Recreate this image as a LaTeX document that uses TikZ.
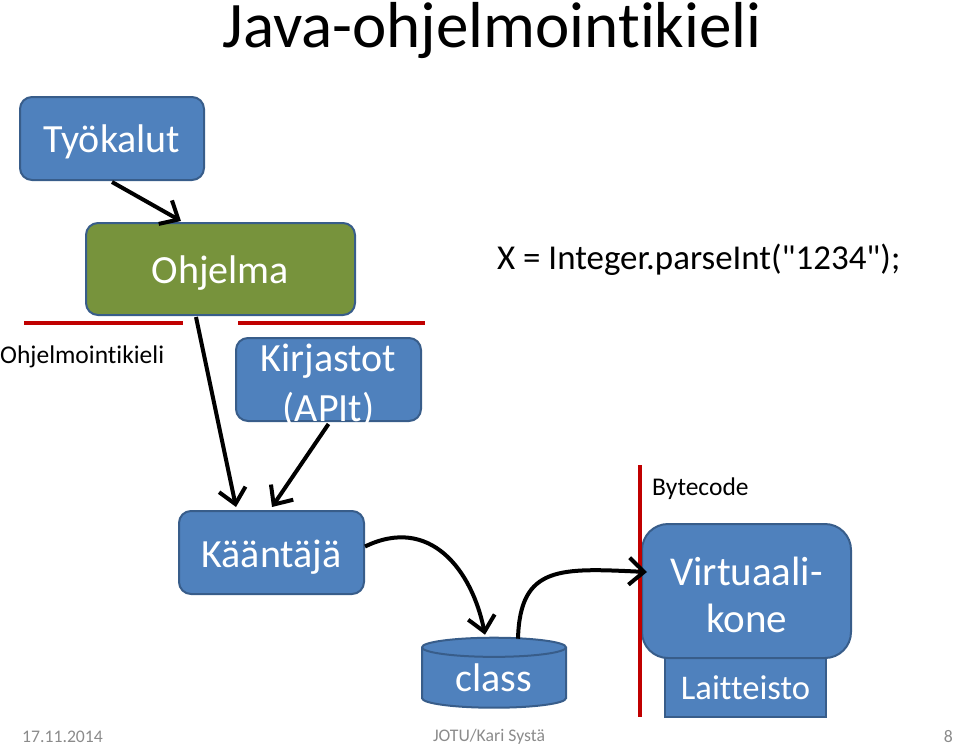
\documentclass[tikz,border=0pt]{standalone}
\usepackage{fontspec}
\setmainfont{Carlito}[Ligatures={TeXOff,CommonOff}]
\usepackage{tikz}
\usetikzlibrary{shapes,arrows.meta,positioning,calc}

\definecolor{boxblue}{HTML}{4F81BD}
\definecolor{boxedge}{HTML}{385D8A}
\definecolor{boxgreen}{HTML}{77933C}
\definecolor{linered}{HTML}{C00000}
\definecolor{footgray}{HTML}{8B8B8B}

\tikzset{
  block/.style={rectangle,rounded corners=12pt,draw=boxedge,line width=2pt,
    fill=boxblue,text=white,font=\fontsize{40}{48}\selectfont,align=center},
  flow/.style={line width=4pt,-{Straight Barb[length=15pt,width=27pt,line width=4pt]}},
  redline/.style={draw=linered,line width=4.5pt},
  small/.style={font=\fontsize{25.5}{30}\selectfont},
  foot/.style={text=footgray,font=\fontsize{17.7}{20}\selectfont}
}

\begin{document}
\begin{tikzpicture}[x=1pt,y=-1pt]
      \useasboundingbox (0,0) rectangle (960,747);
      % boxes
      \node[block,minimum width=184pt,minimum height=83pt]
      (tyokalut) at (112,138.5) {};
      \node[text=white,font=\fontsize{40}{48}\selectfont,anchor=base]
      (tyotext) at (112,152) {Työkalut};
      \node[block,fill=boxgreen,minimum width=269pt,minimum height=92pt]
      (ohjelma) at (220.5,269) {};
      \node[text=white,font=\fontsize{40}{48}\selectfont,anchor=base]
      (ohjtext) at (220.5,283) {Ohjelma};
      \node[block,minimum width=185pt,minimum height=83pt,inner sep=0pt]
      (kirjastot) at (328.5,379.5) {};
      \node[text=white,font=\fontsize{40}{50}\selectfont,align=center,inner sep=0pt]
      (kirjtext) at (328.5,386) {Kirjastot\\(APIt)};
      \node[block,minimum width=185pt,minimum height=83pt]
      (kaantaja) at (271.5,552.5) {};
      \node[text=white,font=\fontsize{40}{48}\selectfont,anchor=base]
      (kaantext) at (271.5,567) {Kääntäjä};
      \node[cylinder,shape border rotate=90,draw=boxedge,line width=2pt,
        fill=boxblue,text=white,font=\fontsize{40}{44}\selectfont,
        minimum width=144pt,minimum height=70pt,aspect=0.25,inner sep=0pt]
      (class) at (494,678) {class};
      \node[block,rounded corners=0pt,minimum width=161pt,minimum height=70pt,inner sep=0pt]
      (laitteisto) at (745.5,682) {};
      \node (laittext) at (745.5,688) {\fontsize{34.6}{40}\selectfont\color{white}Laitteisto};
      \node[block,rounded corners=26pt,minimum width=209pt,minimum height=134pt,
        inner sep=0pt,font=\fontsize{41}{47}\selectfont]
      (vkone) at (746.5,591) {};
      \node[text=white,font=\fontsize{41}{47}\selectfont,align=center,inner sep=0pt]
      (vktext) at (746.5,595) {Virtuaali-\\kone};
      % texts
      \node[anchor=base] (title) at (492,47) {\fontsize{65}{70}\selectfont Java-ohjelmointikieli};
      \node[anchor=west,inner sep=0pt,font=\fontsize{34.9}{40}\selectfont]
      (koodi) at (497,260) {X = Integer.parseInt("1234");};
      \node[small,anchor=west,inner sep=0pt] (kieli) at (0,357) {Ohjelmointikieli};
      \node[small,anchor=west,inner sep=0pt] (bytecode) at (652,489) {Bytecode};
      % red lines
      \draw[redline] (24,323) -- (183,323);
      \draw[redline] (238,323) -- (425,323);
      \draw[redline] (640,465) -- (640,717);
      % arrows
      \draw[flow] ($(tyokalut.south)+(0,1)$) -- ($(ohjelma.north west)+(96,-1)$);
      \draw[flow] ($(ohjelma.south west)+(111,1)$) -- ($(kaantaja.north west)+(58,-3)$);
      \draw[flow] ($(kirjastot.south)+(0,2)$) -- ($(kaantaja.north west)+(94,-3)$);
      \draw[flow] ($(kaantaja.east)+(0,-6)$) .. controls (430,515) and (472,570) ..
      ($(class.north)+(-9,-2)$);
      \draw[flow] ($(class.north)+(24,2)$) .. controls (520,565) and (560,568) ..
      ($(vkone.west)+(6,-19)$);
      % footer
      \node[foot,anchor=west,inner sep=0pt] (pvm) at (22,737) {17.11.2014};
      \node[foot,inner sep=0pt] (tekija) at (489,737) {JOTU/Kari Systä};
      \node[foot,anchor=east,inner sep=0pt] (sivu) at (953,737) {8};
\end{tikzpicture}
\end{document}
